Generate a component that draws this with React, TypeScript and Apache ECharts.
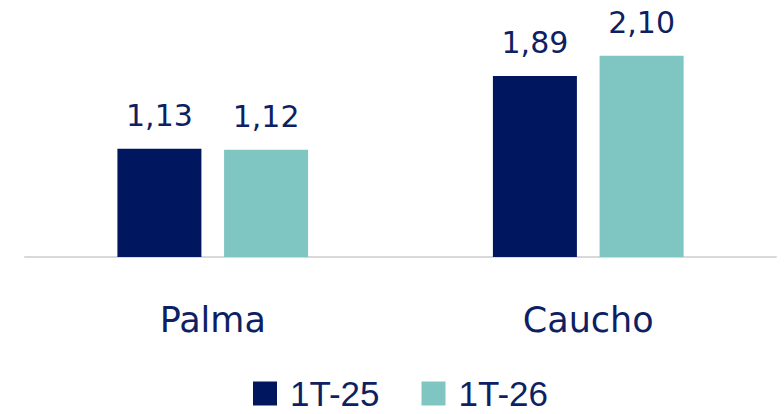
import React, { useEffect, useRef } from "react";
import * as echarts from "echarts";

const categories = ["Palma", "Caucho"];
const seriesNames = ["1T-25", "1T-26"];
const values25 = [1.13, 1.89];
const values26 = [1.12, 2.1];

const NAVY = "#00165F";
const TEAL = "#7FC6C2";
const TEXT = "#0E1F64";
const FONT = "'DejaVu Sans', sans-serif";

export default function App() {
  const ref = useRef<HTMLDivElement>(null);
  useEffect(() => {
    const chart = echarts.init(ref.current!, null, { renderer: "svg" });
    const fmt = (p: any) => Number(p.value).toFixed(2).replace(".", ",");
    chart.setOption({
      animation: false,
      grid: { left: 25, right: 8, top: 17.5, height: 239.5 },
      legend: {
        data: seriesNames,
        left: 253,
        top: 376,
        padding: 0,
        icon: "rect",
        itemWidth: 24,
        itemHeight: 24,
        itemGap: 42,
        textStyle: {
          fontFamily: "'Liberation Sans', Arial, sans-serif",
          fontSize: 35,
          lineHeight: 35,
          color: TEXT,
          padding: [0, 0, 0, 8],
        },
      },
      xAxis: {
        type: "category",
        data: categories,
        axisLine: { show: true, lineStyle: { color: "#D9D9D9", width: 2 } },
        axisTick: { show: false },
        axisLabel: { color: TEXT, fontSize: 35, fontFamily: FONT, margin: 45 },
      },
      yAxis: {
        type: "value",
        min: 0,
        max: 2.5,
        show: false,
        splitLine: { show: false },
      },
      series: [
        {
          name: seriesNames[0],
          type: "bar",
          data: values25,
          barWidth: 84,
          barGap: "27%",
          itemStyle: { color: NAVY },
          label: {
            show: true,
            position: "top",
            distance: 18,
            formatter: fmt,
            color: TEXT,
            fontSize: 30,
            fontFamily: FONT,
          },
        },
        {
          name: seriesNames[1],
          type: "bar",
          data: values26,
          barWidth: 84,
          barGap: "27%",
          itemStyle: { color: TEAL },
          label: {
            show: true,
            position: "top",
            distance: 18,
            formatter: fmt,
            color: TEXT,
            fontSize: 30,
            fontFamily: FONT,
          },
        },
      ],
    });
    return () => chart.dispose();
  }, []);
  return <div ref={ref} style={{ width: 784, height: 414, position: "absolute", left: 0, top: 0 }} />;
}
